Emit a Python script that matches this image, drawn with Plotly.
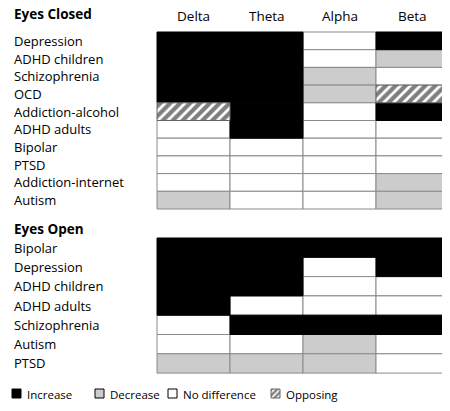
import plotly.graph_objects as go

bands = ["Delta", "Theta", "Alpha", "Beta"]
closed_rows = ["Depression", "ADHD children", "Schizophrenia", "OCD", "Addiction-alcohol",
               "ADHD adults", "Bipolar", "PTSD", "Addiction-internet", "Autism"]
closed_vals = ["IINI", "IIND", "IIDN", "IIDO", "OINI", "NINN", "NNNN", "NNNN", "NNND", "DNND"]
open_rows = ["Bipolar", "Depression", "ADHD children", "ADHD adults", "Schizophrenia", "Autism", "PTSD"]
open_vals = ["IIII", "IINI", "IINN", "INNN", "NIII", "NNDN", "DDDN"]
legend_labels = ["Increase", "Decrease", "No difference", "Opposing"]

colors = {"I": "black", "D": "#cccccc", "N": "white", "O": "white"}
FONT = "Open Sans"
x0, cw = 157, 73
fig = go.Figure()
shapes, black_shapes, ann = [], [], []

def hatch(xa, ya, xb, yb, sz=7):
    fig.add_trace(go.Scatter(x=[xa, xb, xb, xa, xa], y=[ya, ya, yb, yb, ya], mode="lines",
                             fill="toself", fillcolor="white", line=dict(color="#666", width=1),
                             fillpattern=dict(shape="/", fgcolor="black", bgcolor="white", size=sz, solidity=0.6),
                             hoverinfo="skip", showlegend=False))

def grid(rows, vals, ytop, rh, title, ty):
    ann.append(dict(x=12, y=ty, text="<b>" + title + "</b>", showarrow=False, xanchor="left",
                    font=dict(size=13.5, family=FONT, color="black")))
    for r, (name, v) in enumerate(zip(rows, vals)):
        ya, yb = ytop + r * rh, ytop + (r + 1) * rh
        ann.append(dict(x=12, y=(ya + yb) / 2, text=name, showarrow=False, xanchor="left",
                        font=dict(size=13, family=FONT, color="black")))
        for c, code in enumerate(v):
            xa, xb = x0 + c * cw, x0 + (c + 1) * cw
            if code == "O":
                hatch(xa, ya, xb, yb)
                continue
            s = dict(type="rect", x0=xa, x1=xb, y0=ya, y1=yb, fillcolor=colors[code],
                     line=dict(color="black" if code == "I" else "#8a8a8a", width=1), layer="below")
            (black_shapes if code == "I" else shapes).append(s)

for i, b in enumerate(bands):
    ann.append(dict(x=x0 + (i + 0.5) * cw, y=16, text=b, showarrow=False,
                    font=dict(size=13.5, family=FONT, color="black")))
grid(closed_rows, closed_vals, 32, 17.7, "Eyes Closed", 14)
grid(open_rows, open_vals, 238, 19.3, "Eyes Open", 229)

# legend
lx = [12, 95, 168, 271]
lc = ["I", "D", "N", "O"]
for x, code, lab in zip(lx, lc, legend_labels):
    if code == "O":
        hatch(x, 389, x + 9, 398, sz=4)
    else:
        shapes.append(dict(type="rect", x0=x, x1=x + 9, y0=389, y1=398, fillcolor=colors[code],
                           line=dict(color="black", width=1)))
    ann.append(dict(x=x + 13, y=394, text=lab, showarrow=False, xanchor="left",
                    font=dict(size=11.5, family=FONT, color="black")))

off = 8
fig.update_layout(width=450, height=411, margin=dict(l=0, r=0, t=0, b=0),
                  paper_bgcolor="white", plot_bgcolor="white",
                  xaxis=dict(range=[off, 450 + off], visible=False, fixedrange=True),
                  yaxis=dict(range=[411 + off, off], visible=False, fixedrange=True),
                  shapes=shapes + black_shapes, annotations=ann, showlegend=False)
fig.write_html("out.html")
